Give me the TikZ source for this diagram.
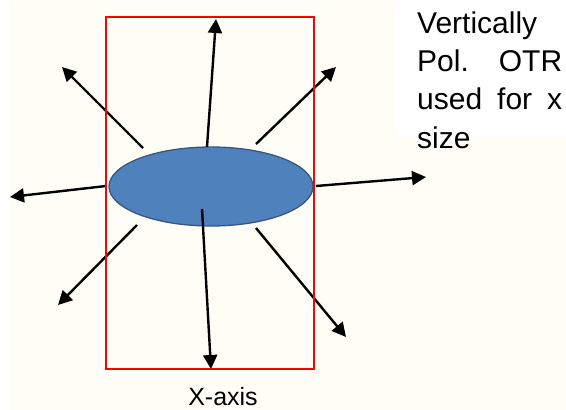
\documentclass[tikz,border=0pt]{standalone}
\usepackage{fontspec}
\setmainfont{Liberation Sans}
\usetikzlibrary{arrows.meta,shapes.geometric}
\definecolor{cream}{RGB}{254,254,247}
\definecolor{ellfill}{RGB}{79,129,189}
\definecolor{elledge}{RGB}{56,86,125}
\definecolor{boxred}{RGB}{255,0,0}
\tikzset{
  ray/.style={line width=2.4pt,-{Triangle[length=14pt,width=14pt]}},
  label/.style={inner sep=0pt,anchor=base west,font=\fontsize{30}{38}\selectfont},
}
\begin{document}
\begin{tikzpicture}[x=1pt,y=-1pt]
\useasboundingbox (0,0) rectangle (566,410);
\fill[cream] (10,1) rectangle (566,410);
\fill[white] (395,0) rectangle (566,135);
% ellipse
\node[draw=elledge,line width=1.3pt,fill=ellfill,ellipse,minimum width=204pt,minimum height=79pt,inner sep=0pt] (ell) at (211,186.5) {};
% arrow ends
\coordinate (upA) at (207,147);  \coordinate (upB) at (216,19);
\coordinate (urA) at (256,144);  \coordinate (urB) at (336,67);
\coordinate (rA)  at (316,186);  \coordinate (rB)  at (426,177);
\coordinate (lrA) at (256,228);  \coordinate (lrB) at (346,337);
\coordinate (dA)  at (202,209);  \coordinate (dB)  at (211,369);
\coordinate (llA) at (137,225);  \coordinate (llB) at (58,305);
\coordinate (lA)  at (106,186);  \coordinate (lB)  at (10,197);
\coordinate (ulA) at (143,148);  \coordinate (ulB) at (62,67);
\draw[ray] (upA) -- (upB);
\draw[ray] (urA) -- (urB);
\draw[ray] (rA) -- (rB);
\draw[ray] (lrA) -- (lrB);
\draw[ray] (dA) -- (dB);
\draw[ray] (llA) -- (llB);
\draw[ray] (lA) -- (lB);
\draw[ray] (ulA) -- (ulB);
% red box
\node[draw=boxred,line width=1.7pt,minimum width=208pt,minimum height=352pt,inner sep=0pt] (box) at (210,193) {};
% texts
\node[label] (t1) at (417,33) {Vertically};
\node[label] (t2) at (417,71) {\makebox[145pt][s]{Pol. OTR}};
\node[label] (t3) at (417,109.5) {\makebox[145pt][s]{used for x}};
\node[label] (t4) at (417,148) {size};
\node[inner sep=0pt,anchor=base,font=\fontsize{25}{30}\selectfont] (xa) at (223,405) {X-axis};
\end{tikzpicture}
\end{document}
